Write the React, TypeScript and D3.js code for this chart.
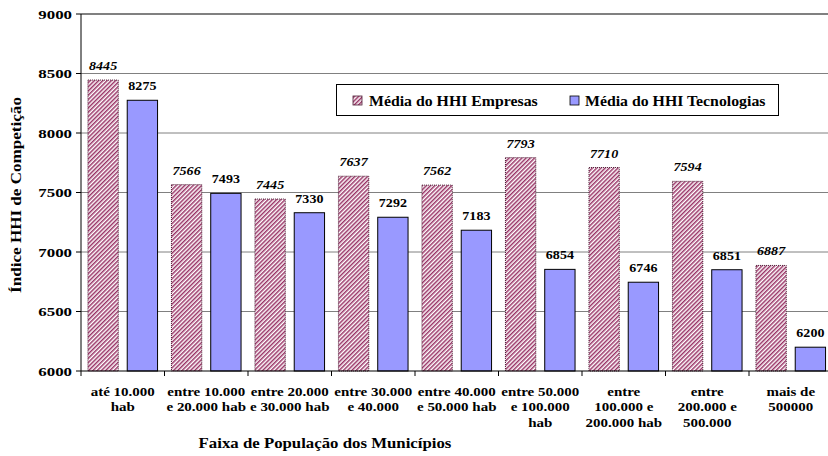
import React from "react";
import * as d3 from "d3";

const categories: string[][] = [
  ["até 10.000", "hab"],
  ["entre 10.000", "e 20.000 hab"],
  ["entre 20.000", "e 30.000 hab"],
  ["entre 30.000", "e 40.000"],
  ["entre 40.000", "e 50.000 hab"],
  ["entre 50.000", "e 100.000", "hab"],
  ["entre", "100.000 e", "200.000 hab"],
  ["entre", "200.000 e", "500.000"],
  ["mais de", "500000"],
];
const empresas = [8445, 7566, 7445, 7637, 7562, 7793, 7710, 7594, 6887];
const tecnologias = [8275, 7493, 7330, 7292, 7183, 6854, 6746, 6851, 6200];
const yTicks = [6000, 6500, 7000, 7500, 8000, 8500, 9000];
const seriesNames = ["Média do HHI Empresas", "Média do HHI Tecnologias"];

const W = 828;
const H = 456;
const left = 81;
const right = 832.5;
const top = 14;
const bottom = 371;
const font = "Times New Roman";

type TProps = {
  x: number;
  y: number;
  sx?: number;
  rot?: number;
  size: number;
  anchor?: "start" | "middle" | "end";
  italic?: boolean;
  children: React.ReactNode;
};

function T({ x, y, sx = 1.2, rot = 0, size, anchor = "start", italic, children }: TProps) {
  return (
    <g transform={`translate(${x},${y}) rotate(${rot}) scale(${sx},1)`}>
      <text
        style={{ fontFamily: font }}
        fontSize={size}
        fontWeight="bold"
        fontStyle={italic ? "italic" : "normal"}
        textAnchor={anchor}
        fill="#000"
      >
        {children}
      </text>
    </g>
  );
}

export default function App() {
  const keys = categories.map((c) => c.join(" "));
  const x = d3.scaleBand<string>().domain(keys).range([left, right]).padding(0);
  const inner = d3
    .scaleBand<string>()
    .domain(["e", "t"])
    .range([0, x.bandwidth()])
    .paddingInner(0.228)
    .paddingOuter(0.177);
  const y = d3.scaleLinear().domain([6000, 9000]).range([bottom, top]);

  return (
    <svg
      width={W}
      height={H}
      style={{ position: "absolute", left: 0, top: 0, background: "#fff" }}
    >
      <defs>
        <pattern
          id="hatch"
          patternUnits="userSpaceOnUse"
          width={3}
          height={3}
          patternTransform="rotate(45)"
        >
          <rect width={3} height={3} fill="#ffffff" />
          <line x1={0.75} y1={0} x2={0.75} y2={3} stroke="#993366" strokeWidth={1.5} />
        </pattern>
      </defs>

      {/* gridlines */}
      {yTicks.slice(1).map((t) => (
        <line
          key={t}
          x1={left}
          x2={W}
          y1={y(t)}
          y2={y(t)}
          stroke="#808080"
          strokeWidth={t === 9000 ? 2 : 1}
        />
      ))}

      {/* bars */}
      {keys.map((k, i) => {
        const x0 = x(k)!;
        const ye = y(empresas[i]);
        const yt = y(tecnologias[i]);
        const xe = x0 + inner("e")!;
        const xt = x0 + inner("t")!;
        const bw = inner.bandwidth();
        return (
          <g key={k}>
            <rect
              x={xe}
              y={ye}
              width={bw}
              height={bottom - ye}
              fill="url(#hatch)"
              stroke="#4d1a33"
              strokeWidth={1}
              strokeDasharray="1,1"
            />
            <rect
              x={xt}
              y={yt}
              width={bw}
              height={bottom - yt}
              fill="#9999ff"
              stroke="#000"
              strokeWidth={1}
            />
            <T x={xe + bw / 2} y={ye - 10} size={12} sx={1.17} anchor="middle" italic>
              {empresas[i]}
            </T>
            <T x={xt + bw / 2} y={yt - 10} size={12} sx={1.17} anchor="middle">
              {tecnologias[i]}
            </T>
          </g>
        );
      })}

      {/* y axis */}
      <line x1={left} x2={left} y1={top} y2={bottom} stroke="#000" strokeWidth={1} />
      {yTicks.map((t) => (
        <g key={t}>
          <line x1={left - 5} x2={left} y1={y(t)} y2={y(t)} stroke="#000" />
          <T x={left - 9} y={y(t) + 4.7} size={13.5} sx={1.25} anchor="end">
            {t}
          </T>
        </g>
      ))}

      {/* x axis */}
      <line x1={left} x2={W} y1={bottom} y2={bottom} stroke="#000" strokeWidth={1} />
      {keys.map((k) => (
        <line
          key={k}
          x1={x(k)!}
          x2={x(k)!}
          y1={bottom}
          y2={bottom + 5}
          stroke="#000"
        />
      ))}
      {categories.map((lines, i) => (
        <g
          key={i}
          transform={`translate(${x(keys[i])! + x.bandwidth() / 2},396) scale(1.2,1)`}
        >
          <text
            style={{ fontFamily: font }}
            textAnchor="middle"
            fontSize={12.5}
            fontWeight="bold"
          >
            {lines.map((l, j) => (
              <tspan key={j} x={0} y={j * 15.5}>
                {l}
              </tspan>
            ))}
          </text>
        </g>
      ))}

      {/* axis titles */}
      <T x={325} y={448} size={14} sx={1.2} anchor="middle">
        Faixa de População dos Municípios
      </T>
      <T x={21} y={195} rot={-90} size={14} sx={1.22} anchor="middle">
        Índice HHI de Competição
      </T>

      {/* legend */}
      <rect x={336.5} y={84.5} width={442} height={31} fill="#fff" stroke="#000" strokeWidth={1} />
      <rect x={353} y={96} width={9} height={9} fill="url(#hatch)" stroke="#4d1a33" strokeWidth={0.8} />
      <T x={369} y={106} size={14} sx={1.13}>
        {seriesNames[0]}
      </T>
      <rect x={570} y={96} width={9} height={9} fill="#9999ff" stroke="#000" strokeWidth={0.8} />
      <T x={585} y={106} size={14} sx={1.13}>
        {seriesNames[1]}
      </T>
    </svg>
  );
}
